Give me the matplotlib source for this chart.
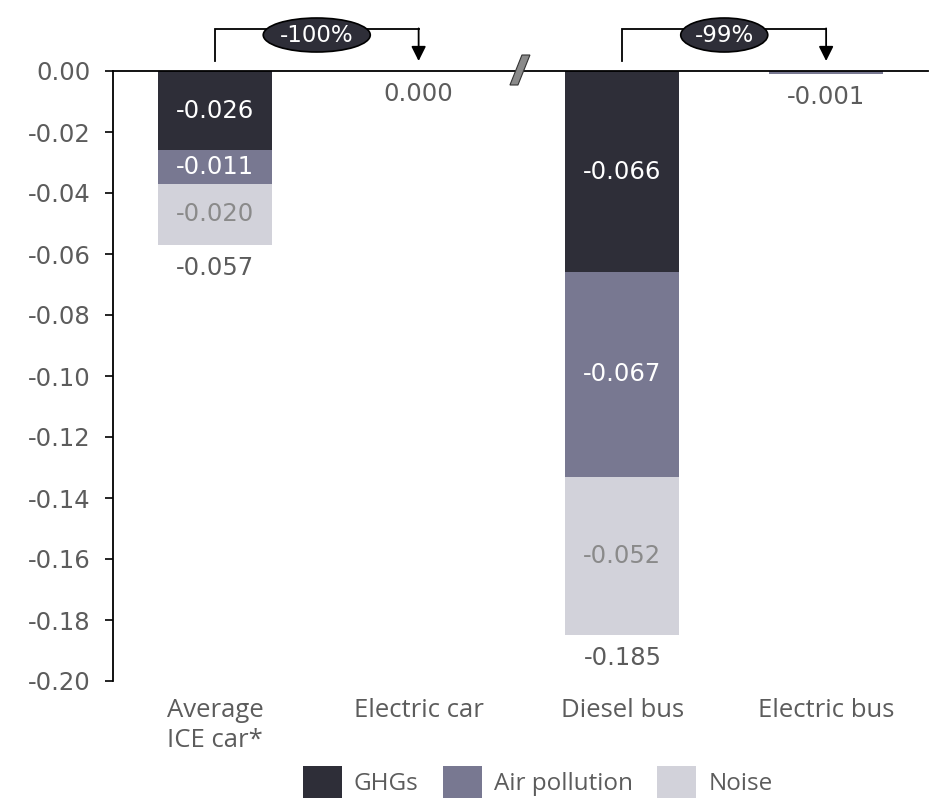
import numpy as np
import matplotlib
matplotlib.use("agg")
import matplotlib.pyplot as plt
from matplotlib.patches import Patch, Ellipse, Polygon
from matplotlib.ticker import FuncFormatter

plt.rcParams['axes.unicode_minus'] = False
plt.rcParams['font.family'] = ['DejaVu Sans']

# external costs per vehicle-km, split by component
categories = ["Average\nICE car*", "Electric car", "Diesel bus", "Electric bus"]
ghg = [-0.026, 0.000, -0.066, 0.000]
air = [-0.011, 0.000, -0.067, -0.001]
noise = [-0.020, 0.000, -0.052, 0.000]
totals = [-0.057, 0.000, -0.185, -0.001]
series_names = ["GHGs", "Air pollution", "Noise"]

# reduction brackets: (from bar, to bar, label)
changes = [(0, 1, "-100%"), (2, 3, "-99%")]

colors = ["#2e2e38", "#787891", "#d2d2da"]
label_colors = ["white", "white", "#8a8a8a"]
text_gray = "#5c5c5c"
label_font = ["Open Sans", "DejaVu Sans"]
num_size = 17.5

fig = plt.figure(figsize=(9.3, 7.98), dpi=100)
ax = fig.add_axes([113/930, 1 - 681/798, 815/930, 610/798])

x = np.arange(len(categories))
width = 0.56
bottom = np.zeros(len(categories))
for vals, col, tcol, name in zip([ghg, air, noise], colors, label_colors, series_names):
    vals = np.array(vals)
    ax.bar(x, vals, width, bottom=bottom, color=col, label=name)
    for xi, b, v in zip(x, bottom, vals):
        if abs(v) >= 0.005:
            ax.text(xi, b + v / 2, f"{v:.3f}", ha="center", va="center",
                    color=tcol, fontsize=num_size)
    bottom = bottom + vals

for xi, t, b in zip(x, totals, bottom):
    ax.text(xi, b - 0.0035, f"{t:.3f}", ha="center", va="top",
            color=text_gray, fontsize=num_size)

ax.set_xlim(-0.5, 3.5)
ax.set_ylim(-0.20, 0)
ax.set_yticks(np.round(np.arange(-0.20, 0.001, 0.02), 2))
ax.yaxis.set_major_formatter(FuncFormatter(lambda v, pos: f"{v:.2f}".replace("-0.00", "0.00")))
ax.set_xticks([])
ax.tick_params(axis="y", length=6, width=1.2, pad=10, labelsize=num_size,
               labelcolor=text_gray, direction="out")
ax.spines["right"].set_visible(False)
ax.spines["bottom"].set_visible(False)
ax.spines["top"].set_linewidth(1.3)
ax.spines["left"].set_linewidth(1.3)

# category names under the axis, lines left-aligned inside a centred block
for xi, cat in zip(x, categories):
    ax.annotate(cat, xy=(xi, 0), xycoords=("data", "axes fraction"),
                xytext=(0, -12), textcoords="offset points",
                ha="center", va="top", multialignment="left", linespacing=1.3,
                family=label_font, fontsize=18.5, color=text_gray)

# axis break mark between cars and buses
px = lambda p: (p - 215) / 203.7
py = lambda p: (71 - p) / 3050
brk = Polygon([(px(510), py(85)), (px(518), py(85)), (px(530), py(55)), (px(522), py(55))],
              closed=True, facecolor="#8a8a8a", edgecolor="#333333", lw=0.8,
              clip_on=False, zorder=5)
ax.add_patch(brk)

# reduction brackets with arrow and oval badge
y_low, y_high = py(61), py(29)
badge_w = {"-100%": 107, "-99%": 87}
for a, b, lab in changes:
    ax.plot([a, a, b], [y_low, y_high, y_high], color="black", lw=1.3,
            clip_on=False, solid_joinstyle="miter")
    ax.annotate("", xy=(b, y_low), xytext=(b, y_high + 0.0002),
                arrowprops=dict(arrowstyle="-|>", color="black", lw=1.3,
                                mutation_scale=22, shrinkA=0, shrinkB=0),
                annotation_clip=False)
    mid = (a + b) / 2
    ell = Ellipse((mid, py(35)), badge_w[lab] / 203.7, 34 / 3050,
                  facecolor="#2e2e38", edgecolor="black", lw=1.2,
                  clip_on=False, zorder=6)
    ax.add_patch(ell)
    ax.text(mid, py(35), lab, ha="center", va="center", color="white",
            fontsize=16.5, zorder=7, clip_on=False)

handles = [Patch(facecolor=c, edgecolor="none") for c in colors]
fig.legend(handles, series_names, loc="center", bbox_to_anchor=(0.578, 1 - 782/798),
           ncol=3, frameon=False, handlelength=1.6, handleheight=1.6,
           handletextpad=0.5, columnspacing=1.0,
           prop=dict(family=label_font, size=17.5), labelcolor=text_gray)

fig.savefig("out.png", dpi=100)
